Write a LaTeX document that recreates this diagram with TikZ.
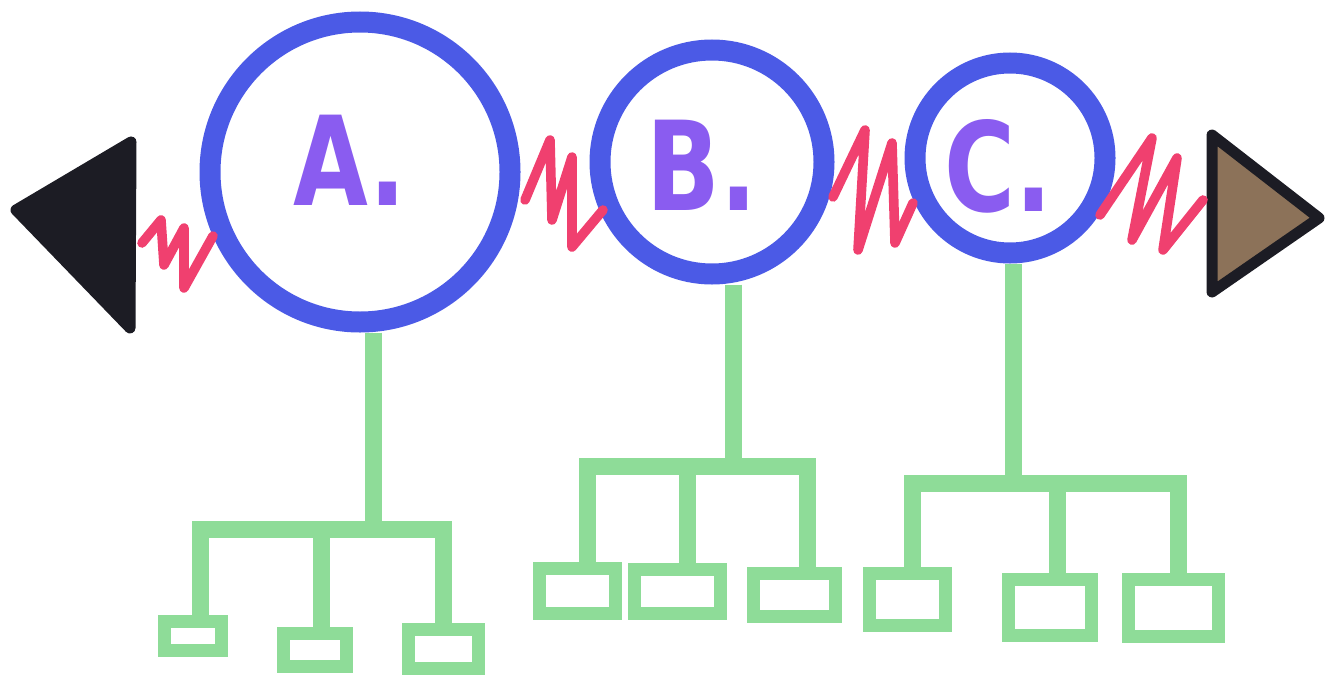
\documentclass[tikz,border=0pt]{standalone}
\usepackage{fontspec}
\setsansfont{DejaVu Sans}
\definecolor{ringblue}{HTML}{4B5AE6}
\definecolor{springred}{HTML}{F0406F}
\definecolor{treegreen}{HTML}{8EDC98}
\definecolor{letterpurple}{HTML}{8A5CF0}
\definecolor{inkblack}{HTML}{1C1C24}
\definecolor{markerbrown}{HTML}{8C7259}
\begin{document}
\begin{tikzpicture}[x=0.5pt,y=-0.5pt,
  ring/.style={circle,draw=ringblue,line width=10.5pt,inner sep=0pt},
  lettr/.style={text=letterpurple,font=\sffamily\bfseries\fontsize{62}{62}\selectfont,xscale=0.78,inner sep=0pt},
  spring/.style={draw=springred,line width=4.8pt,line join=round,line cap=round},
  branch/.style={draw=treegreen,line width=8.5pt,line join=miter},
  leaf/.style={rectangle,draw=treegreen,line width=6.5pt,inner sep=0pt},
  tri/.style={draw=inkblack,line width=5.5pt,line join=round}
]
\useasboundingbox (0,0) rectangle (1342,680);

% triangles
\filldraw[tri,fill=inkblack] (16,210) -- (131,142) -- (130,328) -- cycle;
\filldraw[tri,fill=markerbrown] (1212,135) -- (1319,218) -- (1212,292) -- cycle;

% rings
\node[ring,minimum size=150pt] (A) at (360,172) {};
\node[ring,minimum size=112pt] (B) at (712,162) {};
\node[ring,minimum size=95pt] (C) at (1010,158) {};

% letters
\node[lettr] (la) at (350,160) {A.};
\node[lettr] (lb) at (702,165) {B.};
\node[lettr] (lc) at (998,166) {C.};

% springs
\coordinate (s1a) at (142,243); \coordinate (s1b) at (213,236);
\coordinate (s2a) at (525,200); \coordinate (s2b) at (603,210);
\coordinate (s3a) at (833,197); \coordinate (s3b) at (913,203);
\coordinate (s4a) at (1100,215); \coordinate (s4b) at (1203,200);
\draw[spring] (s1a) -- (161,220) -- (164,265) -- (184,228) -- (184,288) -- (s1b);
\draw[spring] (s2a) -- (550,140) -- (552,220) -- (572,157) -- (572,247) -- (s2b);
\draw[spring] (s3a) -- (865,130) -- (858,250) -- (892,143) -- (895,243) -- (s3b);
\draw[spring] (s4a) -- (1152,138) -- (1132,240) -- (1177,158) -- (1163,250) -- (s4b);

% leaves
\node[leaf,minimum width=28.5pt,minimum height=14.5pt] (A1) at (193,636) {};
\node[leaf,minimum width=31.5pt,minimum height=16.5pt] (A2) at (315,650) {};
\node[leaf,minimum width=35pt,minimum height=19.5pt] (A3) at (443.5,649) {};
\node[leaf,minimum width=38pt,minimum height=22.5pt] (B1) at (577.5,591) {};
\node[leaf,minimum width=43pt,minimum height=22pt] (B2) at (677.5,591.5) {};
\node[leaf,minimum width=41pt,minimum height=21.5pt] (B3) at (794.5,595) {};
\node[leaf,minimum width=38pt,minimum height=26pt] (C1) at (907.5,599.5) {};
\node[leaf,minimum width=41.5pt,minimum height=28pt] (C2) at (1050,607.5) {};
\node[leaf,minimum width=45pt,minimum height=28.5pt] (C3) at (1173.5,608) {};

% tree A
\coordinate (ast) at (373,529);
\coordinate (al) at (200,529); \coordinate (am) at (321,529); \coordinate (ar) at (443,529);
\draw[branch] (ast |- A.south) -- (ast);
\draw[branch] (al |- A1.north) -- (al) -- (ar) -- (ar |- A3.north);
\draw[branch] (am) -- (am |- A2.north);

% tree B
\coordinate (bst) at (733,466);
\coordinate (bl) at (587,466); \coordinate (bm) at (687,466); \coordinate (br) at (807,466);
\draw[branch] (bst |- B.south) -- (bst);
\draw[branch] (bl |- B1.north) -- (bl) -- (br) -- (br |- B3.north);
\draw[branch] (bm) -- (bm |- B2.north);

% tree C
\coordinate (cst) at (1013,483);
\coordinate (cl) at (912,483); \coordinate (cm) at (1057,483); \coordinate (cr) at (1178,483);
\draw[branch] (cst |- C.south) -- (cst);
\draw[branch] (cl |- C1.north) -- (cl) -- (cr) -- (cr |- C3.north);
\draw[branch] (cm) -- (cm |- C2.north);
\end{tikzpicture}
\end{document}
